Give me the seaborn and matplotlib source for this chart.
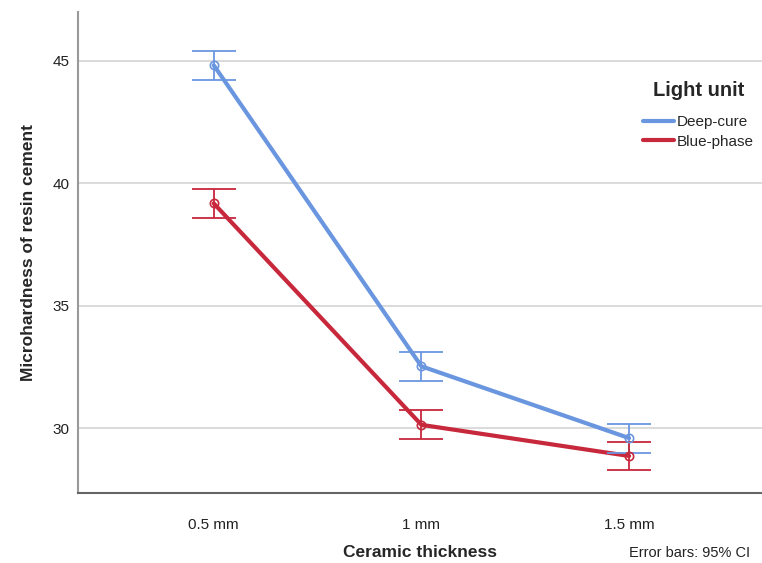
import numpy as np
import pandas as pd
import matplotlib.pyplot as plt
import seaborn as sns

thickness = ["0.5 mm", "1 mm", "1.5 mm"]
units = ["Deep-cure", "Blue-phase"]
deep_mean = [44.82, 32.53, 29.60]
deep_lo = [44.23, 31.95, 29.01]
deep_hi = [45.42, 33.12, 30.18]
blue_mean = [39.18, 30.14, 28.87]
blue_lo = [38.59, 29.56, 28.29]
blue_hi = [39.76, 30.73, 29.45]

colors = {"Deep-cure": "#6a96e0", "Blue-phase": "#c8283c"}

df = pd.DataFrame({
    "Ceramic thickness": thickness * 2,
    "Light unit": [units[0]] * 3 + [units[1]] * 3,
    "mean": deep_mean + blue_mean,
    "lo": deep_lo + blue_lo,
    "hi": deep_hi + blue_hi,
})

sns.set_theme(style="white")
plt.rcParams["font.family"] = ["Liberation Sans", "DejaVu Sans"]

fig = plt.figure(figsize=(7.62, 5.63), dpi=100)
ax = fig.add_axes([0.102, 0.124, 0.898, 0.855])

ax.yaxis.grid(True, color="#d4d4d4", linewidth=1.2, zorder=0)
ax.set_axisbelow(True)

sns.pointplot(data=df, x="Ceramic thickness", y="mean", hue="Light unit",
              order=thickness, hue_order=units, palette=colors,
              errorbar=None, markers="o", linewidth=3, markersize=0,
              dodge=False, ax=ax, legend=False)

for i, u in enumerate(units):
    sub = df[df["Light unit"] == u].set_index("Ceramic thickness").loc[thickness]
    xs = np.arange(len(thickness))
    ax.errorbar(xs, sub["mean"], yerr=[sub["mean"] - sub["lo"], sub["hi"] - sub["mean"]],
                fmt="none", ecolor=colors[u], elinewidth=1.3, capsize=16, capthick=1.3,
                zorder=3)
    ax.plot(xs, sub["mean"], "o", ms=6, mfc="none", mec=colors[u], mew=1.2, zorder=4)

ax.set_xlim(-0.655, 2.64)
ax.set_ylim(27.35, 47.0)
ax.set_yticks([30, 35, 40, 45])
ax.tick_params(axis="both", labelsize=11, colors="#222222", length=0, pad=6)
ax.tick_params(axis="x", pad=18)

for s in ["top", "right"]:
    ax.spines[s].set_visible(False)
ax.spines["left"].set_color("#999999")
ax.spines["left"].set_linewidth(1.5)
ax.spines["bottom"].set_color("#666666")
ax.spines["bottom"].set_linewidth(1.5)

ax.set_xlabel("Ceramic thickness", fontsize=12.5, fontweight="bold", labelpad=9)
ax.set_ylabel("Microhardness of resin cement", fontsize=12.5, fontweight="bold", labelpad=12)

handles = [plt.Line2D([], [], color=colors[u], lw=3) for u in units]
leg = ax.legend(handles, units, title="Light unit", loc="upper right",
                bbox_to_anchor=(1.008, 0.885), frameon=False, fontsize=11,
                handlelength=2.0, handletextpad=0.2, labelspacing=0.35)
leg.get_title().set_fontweight("bold")
leg.get_title().set_fontsize(14.5)
leg._legend_box.sep = 11

fig.text(0.985, 0.005, "Error bars: 95% CI", ha="right", va="bottom", fontsize=10.5,
         color="#222222")

fig.savefig("out.png", dpi=100, facecolor="white")
